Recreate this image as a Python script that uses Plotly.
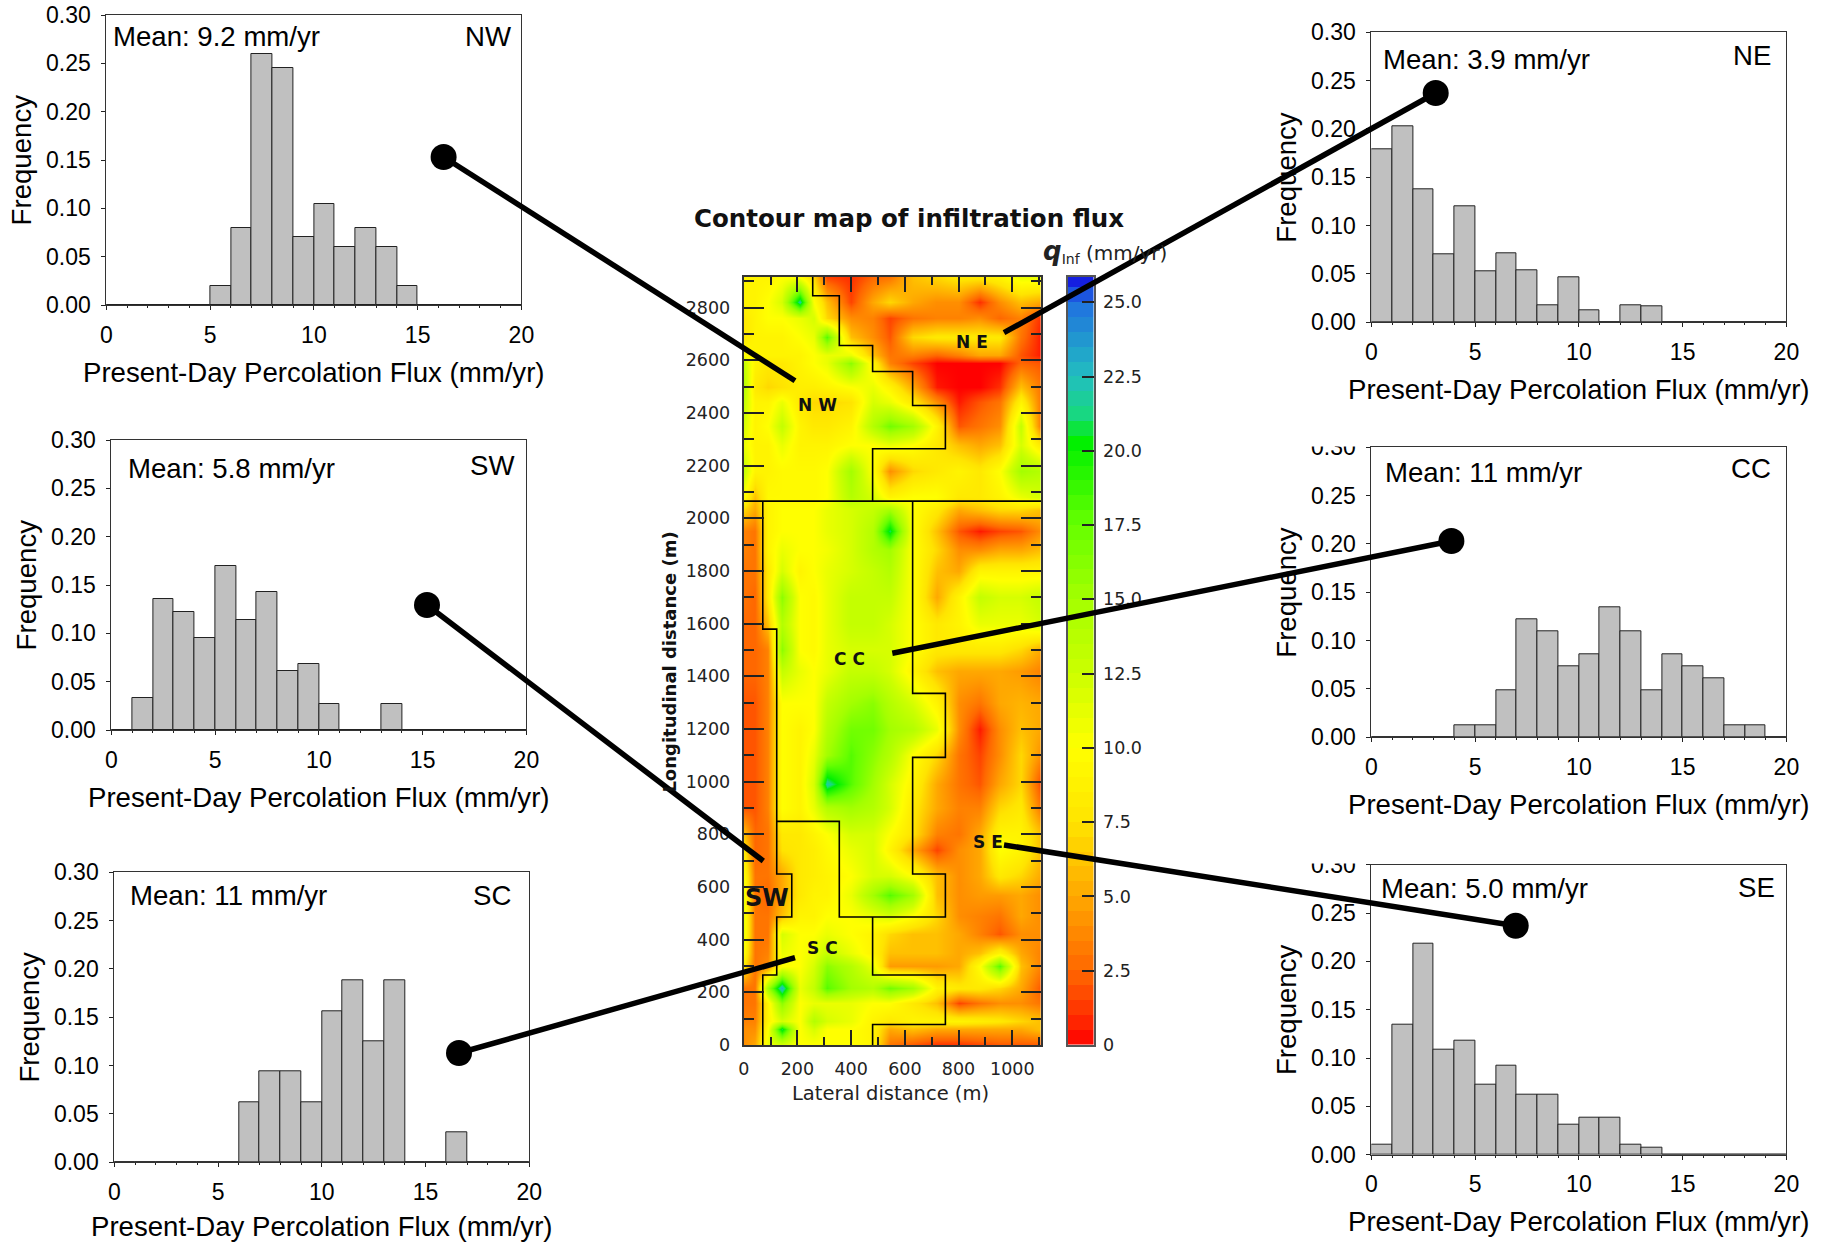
import plotly.graph_objects as go

W, H = 1825, 1244

bin_centers = [i + 0.5 for i in range(20)]
freq_nw = [0,0,0,0,0,.02,.08,.26,.245,.07,.105,.06,.08,.06,.02,0,0,0,0,0]
freq_sw = [0,.033,.136,.122,.095,.17,.114,.143,.061,.068,.027,0,0,.027,0,0,0,0,0,0]
freq_sc = [0,0,0,0,0,0,.0624,.094,.094,.0624,.156,.188,.125,.188,0,0,.031,0,0,0]
freq_ne = [.179,.203,.138,.07,.12,.053,.071,.054,.018,.047,.012,0,.018,.017,0,0,0,0,0,0]
freq_cc = [0,0,0,0,.012,.012,.049,.122,.11,.0735,.086,.134,.11,.049,.086,.0735,.061,.012,.012,0]
freq_se = [.01,.134,.218,.109,.118,.072,.092,.062,.062,.031,.038,.0386,.01,.007,0,0,0,0,0,0]

# name, values, mean text, panel box (left, right, top, bottom in px)
panels = [
    ("NW", freq_nw, "Mean: 9.2 mm/yr", (106.4, 521.4, 15, 305), (113, 36.7), (510.7, 36.7)),
    ("SW", freq_sw, "Mean: 5.8 mm/yr", (111.4, 526.4, 440, 730), (128.3, 469), (514, 465.7)),
    ("SC", freq_sc, "Mean: 11 mm/yr", (114.3, 529.3, 872.3, 1162.3), (130, 895.7), (510.7, 895.7)),
    ("NE", freq_ne, "Mean: 3.9 mm/yr", (1371.4, 1786.4, 32.3, 322.3), (1383, 60), (1771, 55.7)),
    ("CC", freq_cc, "Mean: 11 mm/yr", (1371.4, 1786.4, 447.3, 737.3), (1385.4, 472.7), (1771, 468.5)),
    ("SE", freq_se, "Mean: 5.0 mm/yr", (1371.4, 1786.4, 864.7, 1154.7), (1381, 888), (1774.6, 887)),
]

map_x = [0,40,90,140,210,260,310,400,480,545,630,720,800,880,955,1030,1107]
map_y = [0,60,90,160,215,300,350,420,490,570,640,740,800,900,990,1100,1200,1300,1420,1500,
         1600,1700,1800,1880,1950,2030,2080,2180,2280,2350,2440,2500,2590,2620,2690,2760,2820,2916]
map_z = [
 [4,5,11,12,10,10,10,10,9,3,2,1,1,1.5,2,2,2],
 [4,4,10,21,10,12,10,10,9,5,6,5,5,5,5,5,6],
 [3.5,3.5,9,12,10,14,12,11,9,8,9,9,9,8.5,8,7,6],
 [3,3,9,16,10,11,11,11,10,10,8,6,1.5,3,4,4,3],
 [3,3,15,23,11,13,18,15,14,17,15,9,8,8,7,5,2],
 [8,3,4,10,10,12,16,14,11,4.5,4.5,4.5,5,10,18,6,3.5],
 [10,3,3.5,11,10,11,13,11,9,6,6,6,5,6,9,5,3.5],
 [11,3,3,12,10,10,11,10,9,7,6,6,5,3.5,2,4,4],
 [11,3,3,6,9,9,10,10,11,12,10,7,4,3.5,3,5,4],
 [11,3,2.5,5,8,9,9,11,15,18,15,6,4,4.5,4.5,5,4],
 [10,3,3,5,8,8.5,9,10,12,12,10,6,4,5,8,7,5],
 [8,2.5,3,7.5,8,8.5,9.5,11,12,9,5,1.5,4,5,10,9,6],
 [6,2.5,3,8,8,9,10,12,12,10,7.5,3.5,3,5,9,9,6],
 [2,2,3.5,10,9,11,14,15,14,12,8,5,3.5,3.5,7,8,3],
 [2,2,3.5,10,9,12,22,18,15,12,9,5,3,2,5,7,1.5],
 [2,2,3.5,10,9,11,15,18,16,14,10,7,3,1.5,4,7,4],
 [2,2,3.5,10,9,10,14,17,17,15,14,11,4,0.5,4,6,5],
 [2,2,3.5,10,10,10,13,15,16,14,12,9,4,3,5,5.5,5],
 [2.5,2.5,3.5,13,11,10,11,13,13,12,9,6,5,5,5,4.5,3.5],
 [2.5,2.5,3.5,16,10,9.5,11,12,12,12,10,8,8,8,8,7,5],
 [2.5,2.5,6,14,10,9.5,11,13,13,12,10,8,9,11,11,11,12],
 [3,2.5,8,16,10,9.5,11,13,13,13,10,5,9,13,12,12,13],
 [3,3,8,12,9,10,11,12,13,14,10,6,5,9,9,9,9],
 [3.5,3,9,11,10,10,10.5,12,14,15,10,7,4,4,5,5,6],
 [3.5,3,9,10,10,10,11,12,14,21,10,6,2,0.5,1.5,2,4],
 [7,5,9,10,10,10,11,12,13,15,10,8,5,6,7,7,6],
 [10,6,9.5,9.5,9.5,9.5,10,14,12,9,10,10,8,8,9,11,12],
 [13,9,9,9.5,9.5,9.5,10,15,10,4,7,8,9,8,10,15,14],
 [11,9,9,11,9,9,9,10,10,11,10,8,6,5,6,12,8],
 [12,9,10,13,9,8,8,9,14,17,15,9,2,3,4,13,3],
 [13,9,9,11,8,7,7,7.5,12,11,8,4,0.5,2,3,9,3],
 [14,8,7,7.5,8.5,8.5,9,10,11,9,5,0.5,0,0,1,6,3],
 [13,9,8,8,9,10,11,16,9,3.5,1.5,0,0,0,0,2.5,2],
 [10,9,9,9,9,10,11,11,6,3,3.5,2.5,3.5,5,5,2,0.5],
 [8,9,9,9,10,11,18,6,4,2,7,8,8,8,8,3,0.5],
 [8,9,10,10,11,12,7,4,3.5,1.5,3,3.5,3.5,4,2.5,3.5,1],
 [9,9,10,12,22,10,6,1.5,5,7,5,4,4,1,4,6,5],
 [9,9,9,10,10,7,1.5,1,2.5,3,6,7,8,8,9,11,11],
]

# region boundaries, breaks marked with None
bound_x = [None,0,1107,None,257,257,356,356,480,480,629,629,751,751,480,480,None,
           71,71,123,123,179,179,123,123,71,71,None,629,629,751,751,629,629,751,751,356,356,123,None,480,480,751,751,480,480]
bound_y = [None,2065,2065,None,2916,2845,2845,2656,2656,2557,2557,2428,2428,2264,2264,2065,None,
           2065,1579,1579,649,649,486,486,266,266,0,None,2065,1335,1335,1092,1092,649,649,486,486,849,849,None,486,266,266,78,78,0]

map_xticks = [0,200,400,600,800,1000]
map_yticks = [0,200,400,600,800,1000,1200,1400,1600,1800,2000,2200,2400,2600,2800]

# value -> colour ramp of the flux colour scale
ramp_values = [0,1,2.5,5,7.5,10,12.5,15,17.5,20.3,21.2,22.5,25,25.85]
ramp_colors = ["#FF0000","#FF3000","#FF6800","#FFA800","#FFE400","#FFFF00","#CCFF00","#A4FF00",
               "#66FF00","#00F000","#18D880","#22BEC0","#2070E0","#1414E0"]
zmax = 25.85
colorscale = [[v / zmax, c] for v, c in zip(ramp_values, ramp_colors)]
cbar_levels = [0.25 + 0.5 * i for i in range(52)]
cbar_ticks = [0,2.5,5,7.5,10,12.5,15,17.5,20,22.5,25]
cbar_labels = ["0","2.5","5.0","7.5","10.0","12.5","15.0","17.5","20.0","22.5","25.0"]

# connector lines: dot end first (page pixel axis)
conn_x = [[443.6,795],[427,763.3],[459,795],[1435.7,1004],[1451.4,892.3],[1515.7,1004]]
conn_y = [[157,380.7],[605,861],[1053,957.7],[93,332.7],[541,653.3],[925.7,845]]

ARIAL = "Liberation Sans"
DEJA = "DejaVu Sans"

def xdom(a, b):
    return [a / W, b / W]
def ydom(t, b):
    return [1 - b / H, 1 - t / H]

annotations = []
def ann(x, y, text, size, anchor="center", family=ARIAL, color="#000", angle=0):
    annotations.append(dict(x=x / W, y=1 - y / H, xref="paper", yref="paper", text=text, showarrow=False,
                            font=dict(family=family, size=size, color=color), xanchor=anchor, yanchor="middle",
                            textangle=angle, borderpad=0, borderwidth=0))

fig = go.Figure()
layout = dict(width=W, height=H, autosize=False, margin=dict(l=0, r=0, t=0, b=0, pad=0, autoexpand=False),
              paper_bgcolor="white", plot_bgcolor="rgba(0,0,0,0)", showlegend=False, bargap=0)

for i, (name, vals, mean, (l, r, t, b), mpos, npos) in enumerate(panels, start=1):
    fig.add_trace(go.Bar(x=bin_centers, y=vals, width=1, xaxis=f"x{i}", yaxis=f"y{i}", name=name,
                         marker=dict(color="#C0C0C0", line=dict(color="#222", width=1))))
    layout[f"xaxis{i}"] = dict(domain=xdom(l, r), anchor=f"y{i}", range=[0, 20], tickmode="array",
                               tickvals=[0,5,10,15,20], ticks="outside", ticklen=4, tickwidth=1, tickcolor="#222",
                               showline=True, linecolor="#333", linewidth=1, mirror=True, showgrid=False, zeroline=False,
                               tickfont=dict(family=ARIAL, size=23, color="#000"), ticklabelstandoff=5,
                               minor=dict(dtick=1, ticks="outside", ticklen=2, tickwidth=1, tickcolor="#222", showgrid=False))
    layout[f"yaxis{i}"] = dict(domain=ydom(t, b), anchor=f"x{i}", range=[0, 0.30], tickmode="array",
                               tickvals=[0,.05,.10,.15,.20,.25,.30], tickformat=".2f", ticks="outside", ticklen=4, tickwidth=1,
                               tickcolor="#222", showline=True, linecolor="#333", linewidth=1, mirror=True,
                               showgrid=False, zeroline=False, tickfont=dict(family=ARIAL, size=23, color="#000"),
                               ticklabelstandoff=6)
    ann((l + r) / 2, min(b + 67, 1226), "Present-Day Percolation Flux (mm/yr)", 27.6)
    ann(l - 85, (t + b) / 2, "Frequency", 27.6, angle=-90)
    ann(mpos[0], mpos[1], mean, 27.6, anchor="left")
    ann(npos[0], npos[1], name, 27.6, anchor="right")

# contour map
ML, MR, MT, MB = 743.7, 1041, 277, 1045
fig.add_trace(go.Heatmap(x=map_x, y=map_y, z=map_z, zmin=0, zmax=zmax, colorscale=colorscale, zsmooth="best",
                         showscale=False, xaxis="x7", yaxis="y7", name="flux"))
fig.add_trace(go.Scatter(x=bound_x, y=bound_y, mode="lines", line=dict(color="#000", width=1.6),
                         xaxis="x7", yaxis="y7", name="regions", connectgaps=False))
map_font = dict(family=DEJA, size=17.5, color="#222")
layout["xaxis7"] = dict(domain=xdom(ML, MR), anchor="y7", range=[0, 1107], tickmode="array", tickvals=map_xticks,
                        ticks="inside", ticklen=15, tickwidth=1.5, tickcolor="#222", showline=True, linecolor="#333",
                        linewidth=2, mirror="ticks", showgrid=False, zeroline=False, tickfont=map_font, ticklabelstandoff=7,
                        minor=dict(dtick=100, ticks="inside", ticklen=8, tickwidth=1.5, tickcolor="#222", showgrid=False))
layout["yaxis7"] = dict(domain=ydom(MT, MB), anchor="x7", range=[0, 2916], tickmode="array", tickvals=map_yticks,
                        ticks="inside", ticklen=20, tickwidth=1.5, tickcolor="#222", showline=True, linecolor="#333",
                        linewidth=2, mirror="ticks", showgrid=False, zeroline=False, tickfont=map_font, ticklabelstandoff=8,
                        minor=dict(dtick=100, ticks="inside", ticklen=10, tickwidth=1.5, tickcolor="#222", showgrid=False))

# colour bar drawn as its own axis so the connectors can run over it
fig.add_trace(go.Heatmap(x=[0], y=cbar_levels, z=[[v] for v in cbar_levels], zmin=0, zmax=zmax, colorscale=colorscale,
                         showscale=False, xaxis="x8", yaxis="y8", name="scale"))
layout["xaxis8"] = dict(domain=xdom(1068, 1093.5), anchor="y8", range=[-0.5, 0.5], showticklabels=False, ticks="",
                        showline=True, linecolor="#555", linewidth=2, mirror=True, showgrid=False, zeroline=False)
layout["yaxis8"] = dict(domain=ydom(MT, MB), anchor="x8", side="right", range=[0, zmax], tickmode="array",
                        tickvals=cbar_ticks, ticktext=cbar_labels, ticks="inside", ticklen=12, tickwidth=1.5, tickcolor="#222",
                        showline=True, linecolor="#555", linewidth=2, mirror=True, showgrid=False, zeroline=False,
                        tickfont=map_font, ticklabelstandoff=4)

# connectors, on a top-most axis pair spanning the page
for k, (cx, cy) in enumerate(zip(conn_x, conn_y)):
    fig.add_trace(go.Scatter(x=cx, y=cy, mode="lines+markers", xaxis="x9", yaxis="y9", name=f"link{k}",
                             line=dict(color="#000", width=5.5),
                             marker=dict(color="#000", size=[26, 0], opacity=1, line=dict(width=0))))
layout["xaxis9"] = dict(domain=[0, 1], anchor="y9", range=[0, W], visible=False, fixedrange=True)
layout["yaxis9"] = dict(domain=[0, 1], anchor="x9", range=[H, 0], visible=False, fixedrange=True)

# map texts
ann(909, 219, "<b>Contour map of infiltration flux</b>", 24.5, family=DEJA, color="#111")
ann(890, 1093, "Lateral distance (m)", 19.5, family=DEJA, color="#222")
ann(668.6, 662, "<b>Longitudinal distance (m)</b>", 18, family=DEJA, color="#111", angle=-90)
ann(1105, 251, '<b><i><span style="font-size:26px">q</span></i></b><sub>Inf</sub> (mm/yr)', 20, family=DEJA, color="#222")
for txt, x, y, sz in [("N W", 817, 405, 17), ("N E", 971.7, 342.3, 17), ("C C", 849.3, 658.7, 17),
                      ("S E", 987.7, 841.7, 17), ("S C", 822.3, 948.3, 17), ("SW", 767.3, 898.3, 24)]:
    ann(x, y, f"<b>{txt}</b>", sz, family=DEJA, color="#111")

layout["annotations"] = annotations
# the two top tick labels cropped in the original picture
layout["shapes"] = [
    dict(type="rect", xref="paper", yref="paper", x0=1300 / W, x1=1366 / W, y0=1 - 446.5 / H, y1=1 - 425 / H,
         fillcolor="white", line=dict(width=0), layer="above"),
    dict(type="rect", xref="paper", yref="paper", x0=1300 / W, x1=1366 / W, y0=1 - 863.5 / H, y1=1 - 842 / H,
         fillcolor="white", line=dict(width=0), layer="above"),
]
fig.update_layout(**layout)
fig.write_html("out.html", config=dict(displayModeBar=False),
               post_script="document.body.style.margin='0';document.body.style.overflow='hidden';")
